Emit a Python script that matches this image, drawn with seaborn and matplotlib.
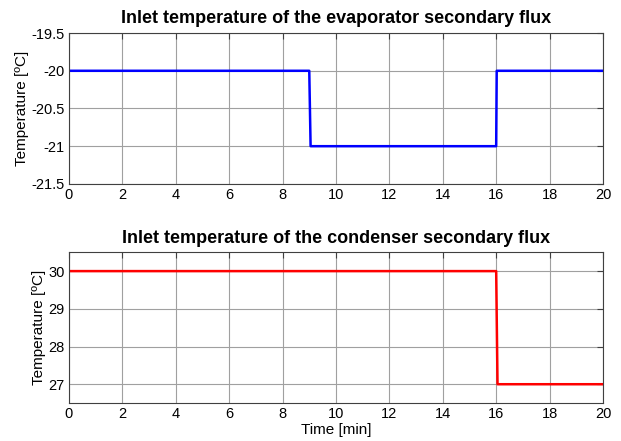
import matplotlib
matplotlib.use("Agg")
import matplotlib.pyplot as plt
import seaborn as sns
import numpy as np

sns.set_style("white")
plt.rcParams['font.family'] = ['Liberation Sans', 'DejaVu Sans']
plt.rcParams['text.color'] = 'black'
plt.rcParams['axes.labelcolor'] = 'black'

# Data
t_evap = [0, 9, 9.05, 16, 16.02, 20]
T_evap = [-20, -20, -21, -21, -20, -20]
t_cond = [0, 16, 16.05, 20]
T_cond = [30, 30, 27, 27]

x_ticks = [0, 2, 4, 6, 8, 10, 12, 14, 16, 18, 20]
y_ticks_evap = [-21.5, -21, -20.5, -20, -19.5]
y_ticks_cond = [27, 28, 29, 30]
y_ticklabels_evap = ["-21.5", "-21", "-20.5", "-20", "-19.5"]

fig = plt.figure(figsize=(6.21, 4.41), dpi=100)
ax1 = fig.add_axes([0.111, 0.583, 0.860, 0.342])
ax2 = fig.add_axes([0.111, 0.086, 0.860, 0.342])

sns.lineplot(x=t_evap, y=T_evap, ax=ax1, estimator=None, sort=False, color='#0000ff', linewidth=1.8)
sns.lineplot(x=t_cond, y=T_cond, ax=ax2, estimator=None, sort=False, color='#ff0000', linewidth=1.8)

for ax in (ax1, ax2):
    ax.set_xlim(0, 20)
    ax.set_xticks(x_ticks)
    ax.set_xticklabels([str(v) for v in x_ticks])
    ax.grid(True, color='#a0a0a0', linewidth=0.8, linestyle='-')
    ax.set_axisbelow(True)
    ax.tick_params(direction='in', top=True, right=True, length=4, labelsize=10.5, width=0.8, colors='#404040', labelcolor='black', pad=3)
    for s in ax.spines.values():
        s.set_color('#404040')
        s.set_linewidth(0.8)
    ax.set_ylabel("Temperature [ºC]", fontsize=11, labelpad=2, color='black')

ax1.set_ylim(-21.5, -19.5)
ax1.set_yticks(y_ticks_evap)
ax1.set_yticklabels(y_ticklabels_evap)
ax1.set_title("Inlet temperature of the evaporator secondary flux", fontsize=13, fontweight='bold', pad=7, color='black')

ax2.set_ylim(26.5, 30.5)
ax2.set_yticks(y_ticks_cond)
ax2.set_yticklabels([str(v) for v in y_ticks_cond])
ax2.set_title("Inlet temperature of the condenser secondary flux", fontsize=13, fontweight='bold', pad=7, color='black')
ax2.set_xlabel("Time [min]", fontsize=11, labelpad=1, color='black')

fig.savefig("out.png", dpi=100, facecolor='white')
